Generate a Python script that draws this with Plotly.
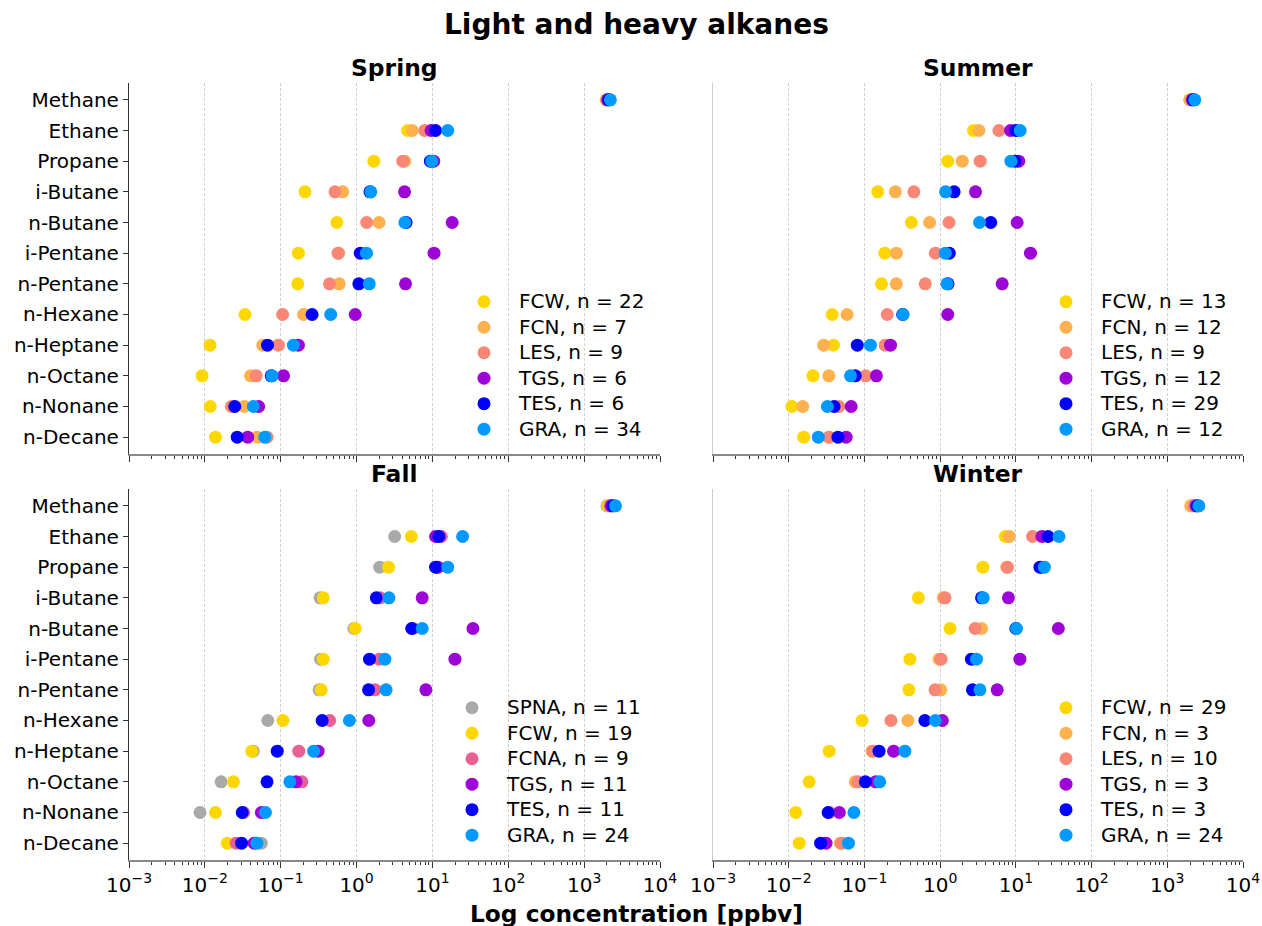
import plotly.graph_objects as go

# Compounds, top to bottom
COMPOUNDS = ["Methane", "Ethane", "Propane", "i-Butane", "n-Butane", "i-Pentane",
             "n-Pentane", "n-Hexane", "n-Heptane", "n-Octane", "n-Nonane", "n-Decane"]

# Mean mixing ratios (ppbv) per site group and season
SPRING_FCW = [2000, 4.7, 1.69, 0.209, 0.55, 0.171, 0.168, 0.0338, 0.0117, 0.0092, 0.0118, 0.0138]
SPRING_FCN = [1950, 5.4, 4.3, 0.655, 1.98, 0.58, 0.59, 0.20, 0.058, 0.040, 0.033, 0.049]
SPRING_LES = [2000, 7.9, 4.07, 0.52, 1.36, 0.57, 0.44, 0.106, 0.093, 0.0475, 0.0224, 0.066]
SPRING_TGS = [2050, 9.6, 10.4, 4.29, 18.2, 10.5, 4.42, 0.96, 0.171, 0.109, 0.0512, 0.0367]
SPRING_TES = [2100, 11.0, 9.4, 1.50, 4.5, 1.12, 1.07, 0.259, 0.067, 0.075, 0.0248, 0.0267]
SPRING_GRA = [2215, 15.9, 9.8, 1.54, 4.33, 1.35, 1.47, 0.456, 0.147, 0.077, 0.0436, 0.0617]

SUMMER_FCW = [2000, 2.75, 1.26, 0.15, 0.416, 0.186, 0.168, 0.0375, 0.039, 0.0209, 0.011, 0.0158]
SUMMER_FCN = [1977, 3.25, 1.96, 0.256, 0.726, 0.264, 0.264, 0.059, 0.029, 0.0339, 0.0153, 0.034]
SUMMER_LES = [2080, 5.97, 3.38, 0.45, 1.31, 0.865, 0.635, 0.20, 0.188, 0.104, 0.046, 0.0342]
SUMMER_TGS = [2150, 8.5, 10.9, 2.93, 10.4, 15.6, 6.6, 1.26, 0.221, 0.144, 0.0668, 0.0573]
SUMMER_TES = [2200, 10.0, 9.7, 1.53, 4.66, 1.32, 1.27, 0.32, 0.0805, 0.0757, 0.0398, 0.0447]
SUMMER_GRA = [2307, 11.4, 8.6, 1.18, 3.31, 1.17, 1.23, 0.324, 0.12, 0.0655, 0.0324, 0.0246]

FALL_SPNA = [2000, 3.18, 2.02, 0.33, 0.92, 0.335, 0.321, 0.0676, 0.0434, 0.0164, 0.00865, 0.0555]
FALL_FCW = [2060, 5.27, 2.64, 0.364, 0.96, 0.364, 0.342, 0.107, 0.0416, 0.0238, 0.0138, 0.0198]
FALL_FCNA = [2200, 13.1, 11.6, 2.04, 5.6, 1.98, 1.75, 0.442, 0.173, 0.19, 0.0325, 0.0259]
FALL_TGS = [2300, 11.0, 11.8, 7.33, 34.2, 19.8, 8.2, 1.45, 0.311, 0.159, 0.0555, 0.0447]
FALL_TES = [2400, 12.2, 11.0, 1.82, 5.33, 1.48, 1.44, 0.352, 0.090, 0.066, 0.0311, 0.0305]
FALL_GRA = [2587, 25.0, 15.9, 2.67, 7.33, 2.36, 2.45, 0.805, 0.272, 0.132, 0.063, 0.0485]

WINTER_FCW = [2100, 7.26, 3.67, 0.516, 1.35, 0.399, 0.387, 0.093, 0.0342, 0.0186, 0.0124, 0.0138]
WINTER_FCN = [2040, 8.2, 7.6, 1.10, 3.52, 0.97, 1.02, 0.375, 0.126, 0.0757, 0.034, 0.0481]
WINTER_LES = [2250, 16.6, 7.73, 1.16, 2.9, 1.03, 0.857, 0.224, 0.13, 0.0822, 0.035, 0.0501]
WINTER_TGS = [2400, 22.1, 22.0, 7.97, 36.4, 11.3, 5.67, 1.07, 0.243, 0.141, 0.0466, 0.0311]
WINTER_TES = [2500, 26.7, 20.8, 3.52, 10.0, 2.59, 2.67, 0.628, 0.156, 0.103, 0.0331, 0.0264]
WINTER_GRA = [2612, 37.1, 23.8, 3.71, 10.2, 3.02, 3.35, 0.865, 0.342, 0.159, 0.0726, 0.0615]

# Sample counts per group
SPRING_N = {"FCW": 22, "FCN": 7, "LES": 9, "TGS": 6, "TES": 6, "GRA": 34}
SUMMER_N = {"FCW": 13, "FCN": 12, "LES": 9, "TGS": 12, "TES": 29, "GRA": 12}
FALL_N = {"SPNA": 11, "FCW": 19, "FCNA": 9, "TGS": 11, "TES": 11, "GRA": 24}
WINTER_N = {"FCW": 29, "FCN": 3, "LES": 10, "TGS": 3, "TES": 3, "GRA": 24}

COLORS = {"SPNA": "#a9a9a9", "FCW": "#ffd700", "FCN": "#ffb14e", "LES": "#fa8775",
          "FCNA": "#ea5f94", "TGS": "#9d02d7", "TES": "#0000ff", "GRA": "#0099ff"}

TICK_VALS = [1e-3, 1e-2, 1e-1, 1e0, 1e1, 1e2, 1e3, 1e4]
TICK_TEXT = ["10<sup>−3</sup>", "10<sup>−2</sup>", "10<sup>−1</sup>", "10<sup>0</sup>",
             "10<sup>1</sup>", "10<sup>2</sup>", "10<sup>3</sup>", "10<sup>4</sup>"]
MINOR_VALS = [k * 10.0 ** e for e in range(-3, 4) for k in range(2, 10)]

FONT = "DejaVu Sans"
W, H = 1262, 926

panels = [
    ("Spring", {"FCW": SPRING_FCW, "FCN": SPRING_FCN, "LES": SPRING_LES,
                "TGS": SPRING_TGS, "TES": SPRING_TES, "GRA": SPRING_GRA}, SPRING_N),
    ("Summer", {"FCW": SUMMER_FCW, "FCN": SUMMER_FCN, "LES": SUMMER_LES,
                "TGS": SUMMER_TGS, "TES": SUMMER_TES, "GRA": SUMMER_GRA}, SUMMER_N),
    ("Fall", {"SPNA": FALL_SPNA, "FCW": FALL_FCW, "FCNA": FALL_FCNA,
              "TGS": FALL_TGS, "TES": FALL_TES, "GRA": FALL_GRA}, FALL_N),
    ("Winter", {"FCW": WINTER_FCW, "FCN": WINTER_FCN, "LES": WINTER_LES,
                "TGS": WINTER_TGS, "TES": WINTER_TES, "GRA": WINTER_GRA}, WINTER_N),
]

# Pixel boxes (left, right, top, bottom) for each panel
boxes = [(129, 660, 83, 454), (713, 1243, 83, 454),
         (129, 660, 489, 860), (713, 1243, 489, 860)]
# Legend anchor (left, top) in pixels
legend_pos = [(449, 284), (1031, 284), (437, 690), (1031, 690)]

fig = go.Figure()
layout = {}
for i, (season, groups, counts) in enumerate(panels):
    idx = "" if i == 0 else str(i + 1)
    leg = "legend" if i == 0 else f"legend{i + 1}"
    for g, vals in groups.items():
        fig.add_trace(go.Scatter(
            x=vals, y=COMPOUNDS, mode="markers",
            marker=dict(size=13, color=COLORS[g], line=dict(width=0)),
            name=f'<span style="font-size:20px">{g}, n = {counts[g]}</span>',
            xaxis="x" + idx, yaxis="y" + idx, legend=leg,
        ))
    l, r, t, b = boxes[i]
    left_col = i in (0, 2)
    bottom_row = i in (2, 3)
    layout["xaxis" + idx] = dict(
        type="log", range=[-3, 4], domain=[l / W, r / W], anchor="y" + idx,
        tickmode="array", tickvals=TICK_VALS, ticktext=TICK_TEXT,
        showticklabels=bottom_row, ticks="outside", ticklen=6, tickwidth=1,
        tickcolor="#333", showline=True, linecolor="#888", linewidth=1.6,
        showgrid=True, gridcolor="#cfcfcf", griddash="3px,2px", gridwidth=0.8,
        zeroline=False, tickfont=dict(family=FONT, size=20, color="black"),
        minor=dict(tickmode="array", tickvals=MINOR_VALS, ticks="outside",
                   ticklen=3, tickwidth=0.8, tickcolor="#333", showgrid=False),
        automargin=False,
    )
    layout["yaxis" + idx] = dict(
        type="category", categoryorder="array", categoryarray=COMPOUNDS,
        range=[11.55, -0.55], domain=[1 - b / H, 1 - t / H], anchor="x" + idx,
        showticklabels=left_col, ticks="outside" if left_col else "",
        ticklen=5, tickwidth=1, tickcolor="#333",
        showline=True, linecolor="#333" if left_col else "#cccccc", linewidth=1.2,
        showgrid=False, zeroline=False,
        tickfont=dict(family=FONT, size=20, color="black"), automargin=False,
    )
    lx, ly = legend_pos[i]
    layout[leg] = dict(
        x=lx / W, y=1 - ly / H, xanchor="left", yanchor="top",
        xref="paper", yref="paper", bgcolor="rgba(0,0,0,0)", borderwidth=0,
        font=dict(family=FONT, size=17.3, color="black"), itemwidth=60,
        tracegroupgap=0,
    )

annotations = [
    dict(text="<b>Light and heavy alkanes</b>", x=636 / W, y=1 - 25 / H,
         xref="paper", yref="paper", showarrow=False, xanchor="center", yanchor="middle",
         font=dict(family=FONT, size=28, color="black")),
    dict(text="<b>Log concentration [ppbv]</b>", x=636 / W, y=1 - 913 / H,
         xref="paper", yref="paper", showarrow=False, xanchor="center", yanchor="middle",
         font=dict(family=FONT, size=23.3, color="black")),
]
title_pos = [(394, 68), (978, 68), (394, 474), (978, 474)]
for (season, _, _), (tx, ty) in zip(panels, title_pos):
    annotations.append(dict(
        text=f"<b>{season}</b>", x=tx / W, y=1 - ty / H, xref="paper", yref="paper",
        showarrow=False, xanchor="center", yanchor="middle",
        font=dict(family=FONT, size=23.4, color="black")))

fig.update_layout(
    width=W, height=H, margin=dict(l=0, r=0, t=0, b=0),
    plot_bgcolor="white", paper_bgcolor="white", showlegend=True,
    annotations=annotations, **layout,
)

fig.write_html("out.html")
